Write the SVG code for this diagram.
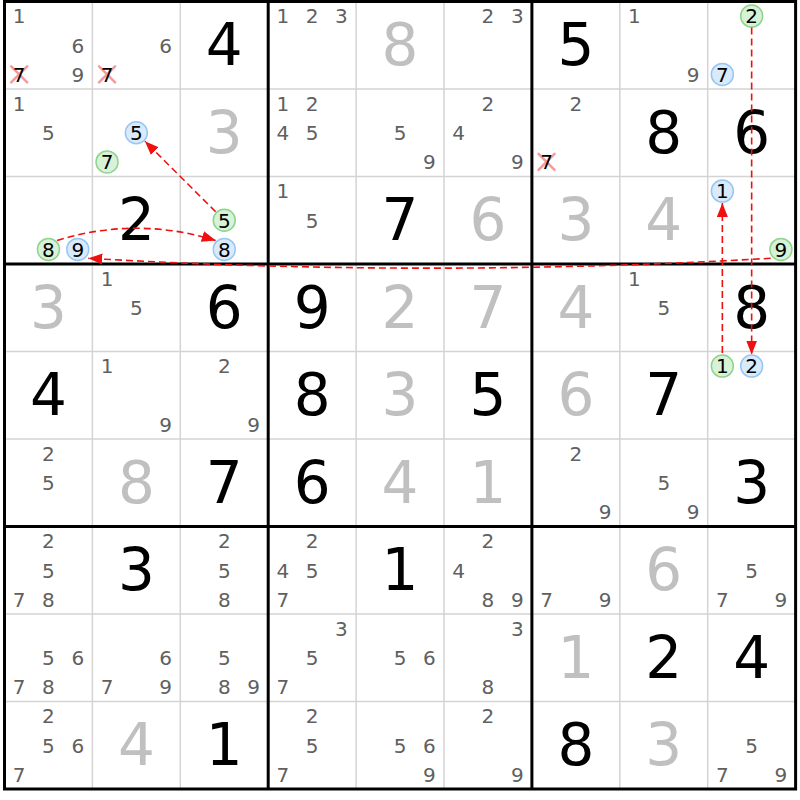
<svg xmlns="http://www.w3.org/2000/svg" width="800" height="800" viewBox="0 0 800 800">
<style>
text{font-family:"DejaVu Sans","Verdana",sans-serif;text-anchor:middle}
.c{font-size:20px;fill:#606060}
.k{font-size:20px;fill:#000}
.g{font-size:58px;fill:#000}
.s{font-size:58px;fill:#c0c0c0}
.cb{fill:#d9eafb;stroke:#98c6f2;stroke-width:1.5}
.cg{fill:#d8f2d8;stroke:#8ed48e;stroke-width:1.5}
.x{stroke:#f49a9a;stroke-width:2.5;stroke-linecap:round}
.thin{stroke:#d4d4d4;stroke-width:1.5}
.thick{stroke:#000;stroke-width:3}
.ln{fill:none;stroke:#f01010;stroke-width:1.6;stroke-dasharray:7 4}
</style>
<defs>
<marker id="ah" markerUnits="userSpaceOnUse" markerWidth="14" markerHeight="12" refX="14" refY="5.5" orient="auto">
<path d="M0,0 L14,5.5 L0,11 z" fill="#f01010"/>
</marker>
</defs>
<rect width="800" height="800" fill="#fff"/>
<g id="grid">
<path class="thin" d="M92.4,1.5V789M180.3,1.5V789M356.1,1.5V789M444,1.5V789M619.8,1.5V789M707.7,1.5V789M4.5,89H795.6M4.5,176.5H795.6M4.5,351.5H795.6M4.5,439H795.6M4.5,614H795.6M4.5,701.5H795.6"/>
<path class="thick" d="M268.2,1.5V789M531.9,1.5V789M4.5,264H795.6M4.5,526.5H795.6"/>
<rect class="thick" x="4.5" y="1.5" width="791.1" height="787.5" fill="none"/>
</g>
<g id="cells">
<!-- Row 1 -->
<g id="r1c1" transform="translate(4.5,1.5)"><text class="c" x="14.65" y="21.9">1</text><text class="c" x="73.25" y="51">6</text><text class="c" x="73.25" y="80">9</text><path class="x" d="M6.65,64.9L22.65,80.9M22.65,64.9L6.65,80.9"/><text class="k" x="14.65" y="80">7</text></g>
<g id="r1c2" transform="translate(92.4,1.5)"><text class="c" x="73.25" y="51">6</text><path class="x" d="M6.65,64.9L22.65,80.9M22.65,64.9L6.65,80.9"/><text class="k" x="14.65" y="80">7</text></g>
<g id="r1c3" transform="translate(180.3,1.5)"><text class="g" x="43.95" y="63.5">4</text></g>
<g id="r1c4" transform="translate(268.2,1.5)"><text class="c" x="14.65" y="21.9">1</text><text class="c" x="43.95" y="21.9">2</text><text class="c" x="73.25" y="21.9">3</text></g>
<g id="r1c5" transform="translate(356.1,1.5)"><text class="s" x="43.95" y="63.5">8</text></g>
<g id="r1c6" transform="translate(444,1.5)"><text class="c" x="43.95" y="21.9">2</text><text class="c" x="73.25" y="21.9">3</text></g>
<g id="r1c7" transform="translate(531.9,1.5)"><text class="g" x="43.95" y="63.5">5</text></g>
<g id="r1c8" transform="translate(619.8,1.5)"><text class="c" x="14.65" y="21.9">1</text><text class="c" x="73.25" y="80">9</text></g>
<g id="r1c9" transform="translate(707.7,1.5)"><circle class="cg" cx="43.95" cy="14.58" r="11"/><text class="k" x="43.95" y="21.9">2</text><circle class="cb" cx="14.65" cy="72.92" r="11"/><text class="k" x="14.65" y="80">7</text></g>
<!-- Row 2 -->
<g id="r2c1" transform="translate(4.5,89)"><text class="c" x="14.65" y="21.9">1</text><text class="c" x="43.95" y="51">5</text></g>
<g id="r2c2" transform="translate(92.4,89)"><circle class="cb" cx="43.95" cy="43.75" r="11"/><text class="k" x="43.95" y="51">5</text><circle class="cg" cx="14.65" cy="72.92" r="11"/><text class="k" x="14.65" y="80">7</text></g>
<g id="r2c3" transform="translate(180.3,89)"><text class="s" x="43.95" y="63.5">3</text></g>
<g id="r2c4" transform="translate(268.2,89)"><text class="c" x="14.65" y="21.9">1</text><text class="c" x="43.95" y="21.9">2</text><text class="c" x="14.65" y="51">4</text><text class="c" x="43.95" y="51">5</text></g>
<g id="r2c5" transform="translate(356.1,89)"><text class="c" x="43.95" y="51">5</text><text class="c" x="73.25" y="80">9</text></g>
<g id="r2c6" transform="translate(444,89)"><text class="c" x="43.95" y="21.9">2</text><text class="c" x="14.65" y="51">4</text><text class="c" x="73.25" y="80">9</text></g>
<g id="r2c7" transform="translate(531.9,89)"><text class="c" x="43.95" y="21.9">2</text><path class="x" d="M6.65,64.9L22.65,80.9M22.65,64.9L6.65,80.9"/><text class="k" x="14.65" y="80">7</text></g>
<g id="r2c8" transform="translate(619.8,89)"><text class="g" x="43.95" y="63.5">8</text></g>
<g id="r2c9" transform="translate(707.7,89)"><text class="g" x="43.95" y="63.5">6</text></g>
<!-- Row 3 -->
<g id="r3c1" transform="translate(4.5,176.5)"><circle class="cg" cx="43.95" cy="72.92" r="11"/><text class="k" x="43.95" y="80">8</text><circle class="cb" cx="73.25" cy="72.92" r="11"/><text class="k" x="73.25" y="80">9</text></g>
<g id="r3c2" transform="translate(92.4,176.5)"><text class="g" x="43.95" y="63.5">2</text></g>
<g id="r3c3" transform="translate(180.3,176.5)"><circle class="cg" cx="43.95" cy="43.75" r="11"/><text class="k" x="43.95" y="51">5</text><circle class="cb" cx="43.95" cy="72.92" r="11"/><text class="k" x="43.95" y="80">8</text></g>
<g id="r3c4" transform="translate(268.2,176.5)"><text class="c" x="14.65" y="21.9">1</text><text class="c" x="43.95" y="51">5</text></g>
<g id="r3c5" transform="translate(356.1,176.5)"><text class="g" x="43.95" y="63.5">7</text></g>
<g id="r3c6" transform="translate(444,176.5)"><text class="s" x="43.95" y="63.5">6</text></g>
<g id="r3c7" transform="translate(531.9,176.5)"><text class="s" x="43.95" y="63.5">3</text></g>
<g id="r3c8" transform="translate(619.8,176.5)"><text class="s" x="43.95" y="63.5">4</text></g>
<g id="r3c9" transform="translate(707.7,176.5)"><circle class="cb" cx="14.65" cy="14.58" r="11"/><text class="k" x="14.65" y="21.9">1</text><circle class="cg" cx="73.25" cy="72.92" r="11"/><text class="k" x="73.25" y="80">9</text></g>
<!-- Row 4 -->
<g id="r4c1" transform="translate(4.5,264)"><text class="s" x="43.95" y="63.5">3</text></g>
<g id="r4c2" transform="translate(92.4,264)"><text class="c" x="14.65" y="21.9">1</text><text class="c" x="43.95" y="51">5</text></g>
<g id="r4c3" transform="translate(180.3,264)"><text class="g" x="43.95" y="63.5">6</text></g>
<g id="r4c4" transform="translate(268.2,264)"><text class="g" x="43.95" y="63.5">9</text></g>
<g id="r4c5" transform="translate(356.1,264)"><text class="s" x="43.95" y="63.5">2</text></g>
<g id="r4c6" transform="translate(444,264)"><text class="s" x="43.95" y="63.5">7</text></g>
<g id="r4c7" transform="translate(531.9,264)"><text class="s" x="43.95" y="63.5">4</text></g>
<g id="r4c8" transform="translate(619.8,264)"><text class="c" x="14.65" y="21.9">1</text><text class="c" x="43.95" y="51">5</text></g>
<g id="r4c9" transform="translate(707.7,264)"><text class="g" x="43.95" y="63.5">8</text></g>
<!-- Row 5 -->
<g id="r5c1" transform="translate(4.5,351.5)"><text class="g" x="43.95" y="63.5">4</text></g>
<g id="r5c2" transform="translate(92.4,351.5)"><text class="c" x="14.65" y="21.9">1</text><text class="c" x="73.25" y="80">9</text></g>
<g id="r5c3" transform="translate(180.3,351.5)"><text class="c" x="43.95" y="21.9">2</text><text class="c" x="73.25" y="80">9</text></g>
<g id="r5c4" transform="translate(268.2,351.5)"><text class="g" x="43.95" y="63.5">8</text></g>
<g id="r5c5" transform="translate(356.1,351.5)"><text class="s" x="43.95" y="63.5">3</text></g>
<g id="r5c6" transform="translate(444,351.5)"><text class="g" x="43.95" y="63.5">5</text></g>
<g id="r5c7" transform="translate(531.9,351.5)"><text class="s" x="43.95" y="63.5">6</text></g>
<g id="r5c8" transform="translate(619.8,351.5)"><text class="g" x="43.95" y="63.5">7</text></g>
<g id="r5c9" transform="translate(707.7,351.5)"><circle class="cg" cx="14.65" cy="14.58" r="11"/><text class="k" x="14.65" y="21.9">1</text><circle class="cb" cx="43.95" cy="14.58" r="11"/><text class="k" x="43.95" y="21.9">2</text></g>
<!-- Row 6 -->
<g id="r6c1" transform="translate(4.5,439)"><text class="c" x="43.95" y="21.9">2</text><text class="c" x="43.95" y="51">5</text></g>
<g id="r6c2" transform="translate(92.4,439)"><text class="s" x="43.95" y="63.5">8</text></g>
<g id="r6c3" transform="translate(180.3,439)"><text class="g" x="43.95" y="63.5">7</text></g>
<g id="r6c4" transform="translate(268.2,439)"><text class="g" x="43.95" y="63.5">6</text></g>
<g id="r6c5" transform="translate(356.1,439)"><text class="s" x="43.95" y="63.5">4</text></g>
<g id="r6c6" transform="translate(444,439)"><text class="s" x="43.95" y="63.5">1</text></g>
<g id="r6c7" transform="translate(531.9,439)"><text class="c" x="43.95" y="21.9">2</text><text class="c" x="73.25" y="80">9</text></g>
<g id="r6c8" transform="translate(619.8,439)"><text class="c" x="43.95" y="51">5</text><text class="c" x="73.25" y="80">9</text></g>
<g id="r6c9" transform="translate(707.7,439)"><text class="g" x="43.95" y="63.5">3</text></g>
<!-- Row 7 -->
<g id="r7c1" transform="translate(4.5,526.5)"><text class="c" x="43.95" y="21.9">2</text><text class="c" x="43.95" y="51">5</text><text class="c" x="14.65" y="80">7</text><text class="c" x="43.95" y="80">8</text></g>
<g id="r7c2" transform="translate(92.4,526.5)"><text class="g" x="43.95" y="63.5">3</text></g>
<g id="r7c3" transform="translate(180.3,526.5)"><text class="c" x="43.95" y="21.9">2</text><text class="c" x="43.95" y="51">5</text><text class="c" x="43.95" y="80">8</text></g>
<g id="r7c4" transform="translate(268.2,526.5)"><text class="c" x="43.95" y="21.9">2</text><text class="c" x="14.65" y="51">4</text><text class="c" x="43.95" y="51">5</text><text class="c" x="14.65" y="80">7</text></g>
<g id="r7c5" transform="translate(356.1,526.5)"><text class="g" x="43.95" y="63.5">1</text></g>
<g id="r7c6" transform="translate(444,526.5)"><text class="c" x="43.95" y="21.9">2</text><text class="c" x="14.65" y="51">4</text><text class="c" x="43.95" y="80">8</text><text class="c" x="73.25" y="80">9</text></g>
<g id="r7c7" transform="translate(531.9,526.5)"><text class="c" x="14.65" y="80">7</text><text class="c" x="73.25" y="80">9</text></g>
<g id="r7c8" transform="translate(619.8,526.5)"><text class="s" x="43.95" y="63.5">6</text></g>
<g id="r7c9" transform="translate(707.7,526.5)"><text class="c" x="43.95" y="51">5</text><text class="c" x="14.65" y="80">7</text><text class="c" x="73.25" y="80">9</text></g>
<!-- Row 8 -->
<g id="r8c1" transform="translate(4.5,614)"><text class="c" x="43.95" y="51">5</text><text class="c" x="73.25" y="51">6</text><text class="c" x="14.65" y="80">7</text><text class="c" x="43.95" y="80">8</text></g>
<g id="r8c2" transform="translate(92.4,614)"><text class="c" x="73.25" y="51">6</text><text class="c" x="14.65" y="80">7</text><text class="c" x="73.25" y="80">9</text></g>
<g id="r8c3" transform="translate(180.3,614)"><text class="c" x="43.95" y="51">5</text><text class="c" x="43.95" y="80">8</text><text class="c" x="73.25" y="80">9</text></g>
<g id="r8c4" transform="translate(268.2,614)"><text class="c" x="73.25" y="21.9">3</text><text class="c" x="43.95" y="51">5</text><text class="c" x="14.65" y="80">7</text></g>
<g id="r8c5" transform="translate(356.1,614)"><text class="c" x="43.95" y="51">5</text><text class="c" x="73.25" y="51">6</text></g>
<g id="r8c6" transform="translate(444,614)"><text class="c" x="73.25" y="21.9">3</text><text class="c" x="43.95" y="80">8</text></g>
<g id="r8c7" transform="translate(531.9,614)"><text class="s" x="43.95" y="63.5">1</text></g>
<g id="r8c8" transform="translate(619.8,614)"><text class="g" x="43.95" y="63.5">2</text></g>
<g id="r8c9" transform="translate(707.7,614)"><text class="g" x="43.95" y="63.5">4</text></g>
<!-- Row 9 -->
<g id="r9c1" transform="translate(4.5,701.5)"><text class="c" x="43.95" y="21.9">2</text><text class="c" x="43.95" y="51">5</text><text class="c" x="73.25" y="51">6</text><text class="c" x="14.65" y="80">7</text></g>
<g id="r9c2" transform="translate(92.4,701.5)"><text class="s" x="43.95" y="63.5">4</text></g>
<g id="r9c3" transform="translate(180.3,701.5)"><text class="g" x="43.95" y="63.5">1</text></g>
<g id="r9c4" transform="translate(268.2,701.5)"><text class="c" x="43.95" y="21.9">2</text><text class="c" x="43.95" y="51">5</text><text class="c" x="14.65" y="80">7</text></g>
<g id="r9c5" transform="translate(356.1,701.5)"><text class="c" x="43.95" y="51">5</text><text class="c" x="73.25" y="51">6</text><text class="c" x="73.25" y="80">9</text></g>
<g id="r9c6" transform="translate(444,701.5)"><text class="c" x="43.95" y="21.9">2</text><text class="c" x="73.25" y="80">9</text></g>
<g id="r9c7" transform="translate(531.9,701.5)"><text class="g" x="43.95" y="63.5">8</text></g>
<g id="r9c8" transform="translate(619.8,701.5)"><text class="s" x="43.95" y="63.5">3</text></g>
<g id="r9c9" transform="translate(707.7,701.5)"><text class="c" x="43.95" y="51">5</text><text class="c" x="14.65" y="80">7</text><text class="c" x="73.25" y="80">9</text></g>
</g>
<g id="connectors">
<path class="ln" d="M215.7,211.8L144.9,141.2" marker-end="url(#ah)"/>
<path class="ln" d="M57,240.5Q136,216 215.8,240.5" marker-end="url(#ah)"/>
<path class="ln" d="M770.7,258.3Q429,278 88.3,258.3" marker-end="url(#ah)"/>
<path class="ln" d="M751.65,27.5V354.5" marker-end="url(#ah)"/>
<path class="ln" d="M722.35,353V203" marker-end="url(#ah)"/>
</g>
</svg>
